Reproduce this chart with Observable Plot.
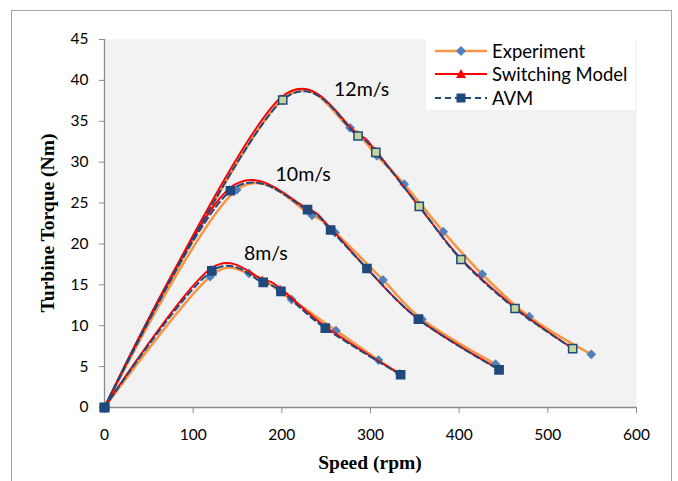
<!DOCTYPE html>
<html><head><meta charset="utf-8">
<script src="https://cdn.jsdelivr.net/npm/d3@7"></script>
<script src="https://cdn.jsdelivr.net/npm/@observablehq/plot@0.6"></script>
<style>
body{margin:0;background:#fff;}
#wrap{position:relative;width:678px;height:481px;overflow:hidden;background:#fff;}
#frame{position:absolute;left:11px;top:10px;width:661px;height:520px;border:1px solid #a6a6a6;box-sizing:border-box;}
#chart{position:absolute;left:0;top:0;}
.ttl{position:absolute;font-family:"Liberation Serif",serif;font-weight:bold;font-size:19.5px;color:#000;white-space:nowrap;}
#ytitle{left:48px;top:223px;transform:translate(-50%,-50%) rotate(-90deg);}
#xtitle{left:370px;top:463px;transform:translate(-50%,-50%);}
#legend{position:absolute;left:426px;top:39px;width:209px;height:71px;background:#fff;font-family:Lato,sans-serif;font-size:18.5px;color:#000;}
.row{position:absolute;left:9px;height:22px;display:flex;align-items:center;}
.row svg{margin-right:5px;}
</style></head><body>
<div id="wrap">
<div id="frame"></div>
<div id="chart"></div>
<div class="ttl" id="ytitle">Turbine Torque (Nm)</div>
<div class="ttl" id="xtitle">Speed (rpm)</div>
<div id="legend"></div>
</div>
<script>
// ---- data ----
const xTicks = [0, 100, 200, 300, 400, 500, 600];
const yTicks = [0, 5, 10, 15, 20, 25, 30, 35, 40, 45];

// Experiment
const exp12Speed = [0, 200, 277, 307, 338, 382, 426, 479, 549];
const exp12Torque = [0, 37.6, 34.2, 30.8, 27.3, 21.5, 16.3, 11.1, 6.5];
const exp10Speed = [0, 149, 234, 260, 314, 358, 441];
const exp10Torque = [0, 26.6, 23.5, 21.4, 15.6, 10.8, 5.3];
const exp8Speed = [0, 119, 163, 211, 261, 309, 333];
const exp8Torque = [0, 16.0, 16.4, 13.2, 9.4, 5.8, 4.1];

// Switching model
const sw12Speed = [0, 199, 285, 305, 354, 402, 463, 527];
const sw12Torque = [0, 37.9, 33.5, 31.5, 24.7, 18.2, 12.2, 7.3];
const sw10Speed = [0, 141, 228, 255, 295, 353, 443];
const sw10Torque = [0, 26.8, 24.4, 21.9, 17.1, 10.9, 4.8];
const sw8Speed = [0, 120, 178, 198, 249, 333];
const sw8Torque = [0, 17.0, 15.7, 14.6, 9.9, 4.1];

// AVM
const avm12Speed = [0, 201, 286, 306, 355, 402, 463, 528];
const avm12Torque = [0, 37.6, 33.2, 31.2, 24.6, 18.1, 12.1, 7.2];
const avm10Speed = [0, 142, 229, 255, 296, 354, 445];
const avm10Torque = [0, 26.5, 24.2, 21.7, 17.0, 10.8, 4.6];
const avm8Speed = [0, 121, 179, 199, 249, 334];
const avm8Torque = [0, 16.7, 15.3, 14.2, 9.7, 4.0];

const windLabels = ["12m/s", "10m/s", "8m/s"];
const windLabelSpeed = [290, 224, 182];
const windLabelTorque = [38.9, 28.5, 18.8];

const seriesNames = ["Experiment", "Switching Model", "AVM"];

// ---- build rows ----
function rows(model, wind, xs, ys) {
  return xs.map((x, i) => ({model, wind, key: model + wind, x, y: ys[i]}));
}
const expRows = [...rows("Experiment","12",exp12Speed,exp12Torque), ...rows("Experiment","10",exp10Speed,exp10Torque), ...rows("Experiment","8",exp8Speed,exp8Torque)];
const swRows = [...rows("Switching","12",sw12Speed,sw12Torque), ...rows("Switching","10",sw10Speed,sw10Torque), ...rows("Switching","8",sw8Speed,sw8Torque)];
const avmRows = [...rows("AVM","12",avm12Speed,avm12Torque), ...rows("AVM","10",avm10Speed,avm10Torque), ...rows("AVM","8",avm8Speed,avm8Torque)];
const labelRows = windLabels.map((t, i) => ({t, x: windLabelSpeed[i], y: windLabelTorque[i]}));

const ORANGE = "#f79646", BLUE = "#4f81bd", RED = "#ff0000", NAVY = "#1f497d", GREEN = "#c3d69b", AXIS = "#8c8c8c";
const CURVE = "catmull-rom", ALPHA = 0.15;

const chart = Plot.plot({
  width: 678, height: 481,
  marginLeft: 104, marginRight: 42, marginTop: 39, marginBottom: 74,
  style: {fontFamily: "Lato, sans-serif", fontSize: "15.5px", color: "#000", background: "transparent"},
  x: {domain: [0, 600]},
  y: {domain: [0, 45]},
  marks: [
    Plot.frame({fill: "#f2f2f2", stroke: "none"}),
    Plot.ruleX([0], {stroke: AXIS, strokeWidth: 1.3}),
    Plot.ruleY([0], {stroke: AXIS, strokeWidth: 1.3}),
    Plot.axisY(yTicks, {tickSize: 5, text: null, color: AXIS, label: null}),
    Plot.axisY(yTicks, {tickSize: 0, tickPadding: 16, color: "#000", label: null}),
    Plot.axisX(xTicks, {tickSize: 6, text: null, color: AXIS, label: null}),
    Plot.axisX(xTicks, {tickSize: 0, tickPadding: 21, color: "#000", label: null}),
    Plot.line(expRows, {x: "x", y: "y", z: "key", stroke: ORANGE, strokeWidth: 2.6, curve: CURVE, tension: ALPHA}),
    Plot.dot(expRows, {x: "x", y: "y", symbol: "diamond2", r: 4.4, fill: BLUE, stroke: "none"}),
    Plot.line(swRows, {x: "x", y: "y", z: "key", stroke: RED, strokeWidth: 2, curve: CURVE, tension: ALPHA}),
    Plot.dot(swRows, {x: "x", y: "y", symbol: "triangle", r: 2.2, fill: RED, stroke: "none"}),
    Plot.line(avmRows, {x: "x", y: "y", z: "key", stroke: NAVY, strokeWidth: 2, strokeDasharray: "6,4", curve: CURVE, tension: ALPHA}),
    Plot.dot(avmRows, {x: "x", y: "y", symbol: "square", r: 4.6, fill: d => d.wind === "12" ? GREEN : NAVY, stroke: NAVY, strokeWidth: 1.5}),
    Plot.text(labelRows, {x: "x", y: "y", text: "t", fontSize: 19.5, fill: "#000", fontFamily: "Lato, sans-serif"})
  ]
});
document.getElementById("chart").appendChild(chart);

// ---- legend ----
const legend = document.getElementById("legend");
const swatches = [
  `<svg width="52" height="14"><line x1="0" y1="7" x2="52" y2="7" stroke="${ORANGE}" stroke-width="2.6"/><path d="M26,2 L31,7 L26,12 L21,7Z" fill="${BLUE}"/></svg>`,
  `<svg width="52" height="14"><line x1="0" y1="7" x2="52" y2="7" stroke="${RED}" stroke-width="2"/><path d="M26,2 L31,11 L21,11Z" fill="${RED}"/></svg>`,
  `<svg width="52" height="14"><line x1="0" y1="7" x2="52" y2="7" stroke="${NAVY}" stroke-width="2" stroke-dasharray="6,4"/><rect x="21.5" y="2.5" width="9" height="9" fill="${NAVY}"/></svg>`
];
const rowTops = [1, 24, 48];
seriesNames.forEach((name, i) => {
  const r = document.createElement("div");
  r.className = "row";
  r.style.top = rowTops[i] + "px";
  r.innerHTML = swatches[i] + `<span>${name}</span>`;
  legend.appendChild(r);
});
</script>
</body></html>
